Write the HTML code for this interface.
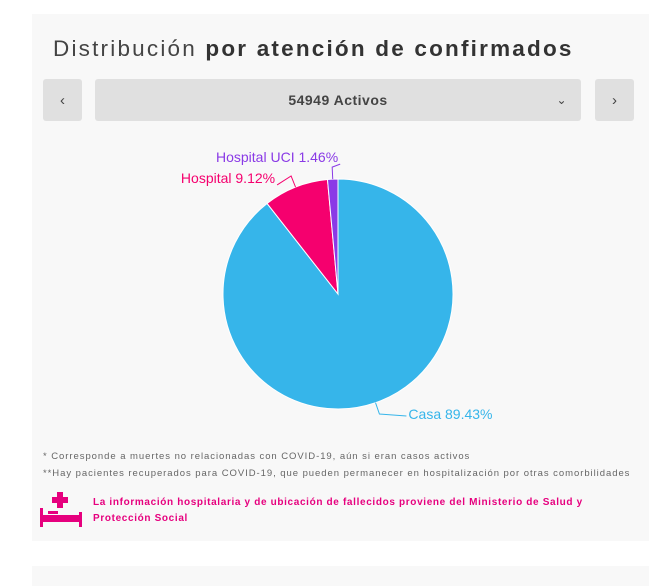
<!DOCTYPE html>
<html><head><meta charset="utf-8"><style>
body{margin:0;width:649px;height:572px;background:#fff;font-family:"Liberation Sans",sans-serif;position:relative;overflow:hidden}
.card{position:absolute;left:32px;top:14px;width:630px;height:527px;background:#f8f8f8}
.card2{position:absolute;left:32px;top:566px;width:630px;height:20px;background:#f8f8f8}
.title{position:absolute;left:53px;top:36px;font-size:22.5px;color:#444;letter-spacing:2.2px}
.title b{color:#333}
.btn{position:absolute;top:79px;height:42px;background:#e0e0e0;border-radius:3px;color:#444;font-size:15px;display:flex;align-items:center;justify-content:center}
.note{position:absolute;left:43px;font-size:9.5px;color:#666;letter-spacing:0.95px;white-space:nowrap}
.pink{position:absolute;left:93px;font-size:10px;font-weight:bold;color:#e6007e;letter-spacing:0.65px;white-space:nowrap}
</style></head><body>
<div class="card"></div>
<div class="card2"></div>
<div class="title">Distribución <b>por atención de confirmados</b></div>
<div class="btn" style="left:43px;width:39px">‹</div>
<div class="btn" style="left:95px;width:486px;font-weight:bold;font-size:14px;letter-spacing:0.5px">54949 Activos<span style="position:absolute;right:14px;font-weight:normal;font-size:12px">⌄</span></div>
<div class="btn" style="left:595px;width:39px">›</div>
<svg id="pie" width="649" height="572" style="position:absolute;left:0;top:0"></svg>
<div class="note" style="top:451px">* Corresponde a muertes no relacionadas con COVID-19, aún si eran casos activos</div>
<div class="note" style="top:468px">**Hay pacientes recuperados para COVID-19, que pueden permanecer en hospitalización por otras comorbilidades</div>
<svg style="position:absolute;left:40px;top:492px" width="44" height="36">
<rect x="17" y="0" width="6" height="16" fill="#e6007e"/><rect x="12" y="5" width="16" height="6" fill="#e6007e"/>
<rect x="0" y="16" width="3" height="19" fill="#e6007e"/><rect x="39" y="20" width="3" height="15" fill="#e6007e"/>
<rect x="3" y="23" width="36" height="7" fill="#e6007e"/><rect x="8" y="19" width="10" height="3" fill="#e6007e"/></svg>
<div class="pink" style="top:497px">La información hospitalaria y de ubicación de fallecidos proviene del Ministerio de Salud y</div>
<div class="pink" style="top:513px">Protección Social</div>
<script>
const labels=["Casa","Hospital","Hospital UCI"];
const values=[89.43,9.12,1.46];
const colors=["#36b5ea","#f5006e","#8a3ae6"];
const svg=document.getElementById('pie');const NS="http://www.w3.org/2000/svg";
const cx=338,cy=294,r=115;
const total=values.reduce((a,b)=>a+b,0);
function pt(a,rr){return [cx+rr*Math.sin(a),cy-rr*Math.cos(a)];}
let a0=0;
values.forEach((v,i)=>{
 const a1=a0+v/total*2*Math.PI;
 const p0=pt(a0,r),p1=pt(a1,r);
 const p=document.createElementNS(NS,'path');
 p.setAttribute('d',`M${cx},${cy}L${p0[0]},${p0[1]}A${r},${r} 0 ${a1-a0>Math.PI?1:0} 1 ${p1[0]},${p1[1]}Z`);
 p.setAttribute('fill',colors[i]);p.setAttribute('stroke','#fff');p.setAttribute('stroke-width','1');
 
 
 svg.appendChild(p);
 const m=(a0+a1)/2;const e=pt(m,r),o=pt(m,r+12);
 const right=Math.sin(m)>=0;
 let tx,ty,dy;
 if(i===0){tx=o[0]+29;ty=o[1];dy=5;}else if(i===1){tx=o[0]-16;ty=o[1]+7;dy=0;}else{tx=o[0]+6;ty=o[1]-5;dy=0;}
 const l=document.createElementNS(NS,'polyline');
 l.setAttribute('points',`${e[0]},${e[1]} ${o[0]},${o[1]} ${tx+(right?-2:2)},${ty+2}`);
 l.setAttribute('fill','none');l.setAttribute('stroke',colors[i]);
 
 
 svg.appendChild(l);
 const t=document.createElementNS(NS,'text');
 t.setAttribute('x',tx);t.setAttribute('y',ty+dy);
 t.setAttribute('text-anchor',i===0?'start':'end');
 t.setAttribute('fill',colors[i]);t.setAttribute('font-size','14');t.setAttribute('font-family','Liberation Sans, sans-serif');
 t.textContent=labels[i]+' '+v.toFixed(2)+'%';
 
 
 svg.appendChild(t);
 a0=a1;
});
</script>
</body></html>
